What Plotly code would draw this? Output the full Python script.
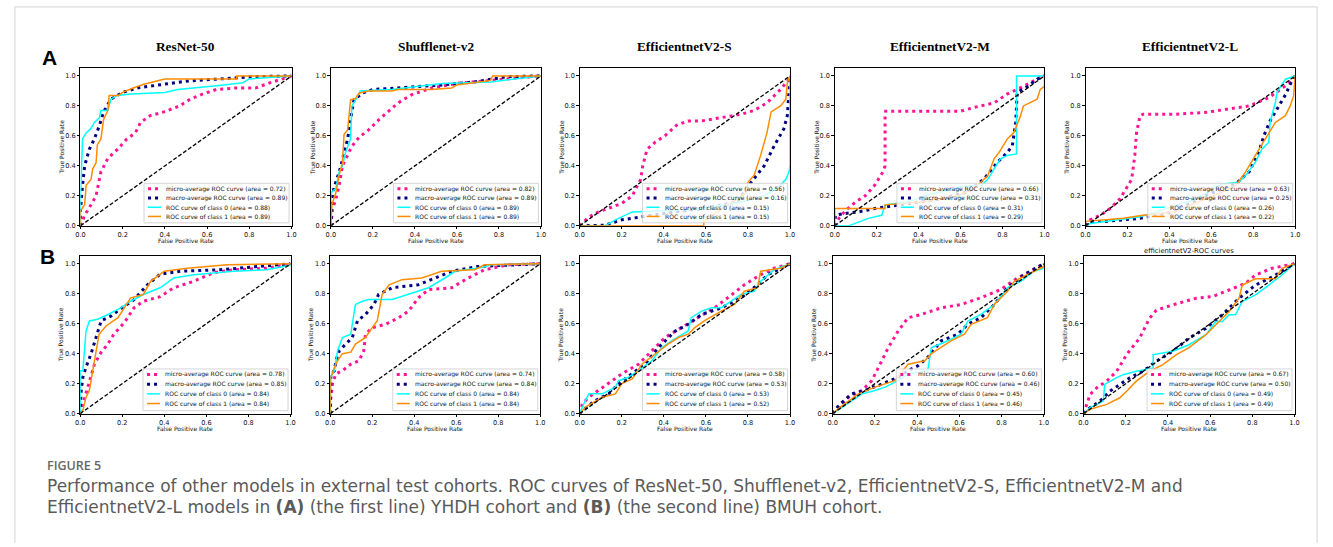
import plotly.graph_objects as go

W, H = 1333, 547

# ---------------- text / labels ----------------
titles_A = ["ResNet-50", "Shufflenet-v2", "EfficientnetV2-S", "EfficientnetV2-M", "EfficientnetV2-L"]
title_B5 = "efficientnetV2-ROC curves"
tick_vals = [0.0, 0.2, 0.4, 0.6, 0.8, 1.0]
tick_text = ["0.0", "0.2", "0.4", "0.6", "0.8", "1.0"]
series_names = ["micro-average ROC curve", "macro-average ROC curve",
                "ROC curve of class 0", "ROC curve of class 1"]
x_title = "False Positive Rate"
y_title = "True Positive Rate"

auc_A = [[0.72, 0.89, 0.88, 0.89], [0.82, 0.89, 0.89, 0.89], [0.56, 0.16, 0.15, 0.15],
         [0.66, 0.31, 0.31, 0.29], [0.63, 0.25, 0.26, 0.22]]
auc_B = [[0.78, 0.85, 0.84, 0.84], [0.74, 0.84, 0.84, 0.84], [0.58, 0.53, 0.53, 0.52],
         [0.60, 0.46, 0.45, 0.46], [0.67, 0.50, 0.49, 0.49]]

caption_head = "FIGURE 5"
caption_1 = ("Performance of other models in external test cohorts. ROC curves of ResNet-50, "
             "Shufflenet-v2, EfficientnetV2-S, EfficientnetV2-M and")
caption_2 = ("EfficientnetV2-L models in <b>(A)</b> (the first line) YHDH cohort and "
             "<b>(B)</b> (the second line) BMUH cohort.")

# ---------------- data: row A (YHDH) ----------------
a1_micro_fpr = [0, 0.02, 0.05, 0.074, 0.097, 0.13, 0.175, 0.22, 0.26, 0.285, 0.33, 0.395, 0.47, 0.52, 0.58, 0.645, 0.74, 0.83, 0.9, 1.0]
a1_micro_tpr = [0, 0.07, 0.14, 0.2, 0.36, 0.45, 0.51, 0.58, 0.62, 0.69, 0.735, 0.76, 0.80, 0.845, 0.88, 0.91, 0.92, 0.92, 0.955, 1.0]
a1_macro_fpr = [0, 0, 0.01, 0.02, 0.042, 0.066, 0.09, 0.11, 0.144, 0.2, 0.27, 0.38, 0.5, 0.66, 0.82, 1.0]
a1_macro_tpr = [0, 0.1, 0.27, 0.4, 0.51, 0.58, 0.67, 0.76, 0.845, 0.89, 0.92, 0.94, 0.965, 0.98, 0.995, 1.0]
a1_c0_fpr = [0, 0, 0.01, 0.027, 0.05, 0.066, 0.09, 0.097, 0.13, 0.136, 0.144, 0.175, 0.24, 0.4, 0.46, 0.645, 0.77, 0.8, 1.0]
a1_c0_tpr = [0, 0.18, 0.58, 0.62, 0.65, 0.69, 0.72, 0.77, 0.77, 0.81, 0.845, 0.87, 0.88, 0.89, 0.91, 0.935, 0.955, 0.98, 1.0]
a1_c1_fpr = [0, 0, 0.02, 0.027, 0.05, 0.058, 0.074, 0.08, 0.097, 0.11, 0.13, 0.136, 0.18, 0.2, 0.25, 0.3, 0.4, 0.74, 0.74, 1.0]
a1_c1_tpr = [0, 0.1, 0.14, 0.27, 0.31, 0.38, 0.42, 0.54, 0.58, 0.71, 0.77, 0.87, 0.87, 0.89, 0.92, 0.945, 0.98, 0.98, 1.0, 1.0]

a2_micro_fpr = [0, 0.008, 0.024, 0.04, 0.055, 0.08, 0.1, 0.134, 0.18, 0.23, 0.275, 0.32, 0.385, 0.48, 0.6, 0.76, 0.92, 1.0]
a2_micro_tpr = [0, 0.11, 0.18, 0.27, 0.40, 0.47, 0.53, 0.59, 0.64, 0.71, 0.765, 0.82, 0.875, 0.92, 0.95, 0.97, 0.995, 1.0]
a2_macro_fpr = [0, 0.005, 0.016, 0.04, 0.055, 0.08, 0.094, 0.11, 0.15, 0.2, 0.32, 0.53, 0.685, 0.84, 1.0]
a2_macro_tpr = [0, 0.18, 0.26, 0.36, 0.44, 0.58, 0.71, 0.84, 0.885, 0.91, 0.92, 0.94, 0.96, 0.995, 1.0]
a2_c0_fpr = [0, 0, 0.024, 0.04, 0.055, 0.07, 0.094, 0.1, 0.118, 0.14, 0.29, 0.42, 0.53, 0.76, 1.0]
a2_c0_tpr = [0, 0.22, 0.25, 0.36, 0.4, 0.49, 0.58, 0.8, 0.84, 0.9, 0.91, 0.93, 0.95, 0.96, 1.0]
a2_c1_fpr = [0, 0.005, 0.024, 0.04, 0.055, 0.063, 0.08, 0.094, 0.118, 0.134, 0.18, 0.29, 0.32, 0.48, 0.575, 0.6, 0.76, 0.77, 1.0]
a2_c1_tpr = [0, 0.14, 0.22, 0.34, 0.42, 0.61, 0.64, 0.84, 0.85, 0.885, 0.9, 0.9, 0.91, 0.91, 0.92, 0.94, 0.97, 1.0, 1.0]

a3_micro_fpr = [0, 0.044, 0.09, 0.154, 0.2, 0.25, 0.29, 0.30, 0.32, 0.36, 0.405, 0.46, 0.515, 0.58, 0.67, 0.77, 0.83, 0.89, 0.955, 0.995, 1.0]
a3_micro_tpr = [0, 0.06, 0.093, 0.126, 0.15, 0.2, 0.31, 0.40, 0.51, 0.56, 0.6, 0.67, 0.7, 0.7, 0.72, 0.745, 0.77, 0.82, 0.91, 0.98, 1.0]
a3_macro_fpr = [0, 0.12, 0.2, 0.33, 0.45, 0.59, 0.75, 0.815, 0.877, 0.925, 0.97, 0.987, 0.995, 1.0]
a3_macro_tpr = [0, 0.004, 0.04, 0.07, 0.093, 0.115, 0.16, 0.29, 0.4, 0.535, 0.646, 0.735, 0.91, 1.0]
a3_c0_fpr = [0, 0.12, 0.17, 0.25, 0.44, 0.59, 0.77, 0.86, 0.94, 0.98, 0.995, 1.0, 1.0]
a3_c0_tpr = [0, 0, 0.04, 0.093, 0.104, 0.115, 0.16, 0.19, 0.25, 0.31, 0.36, 0.4, 1.0]
a3_c1_fpr = [0, 0.59, 0.59, 0.79, 0.8, 0.83, 0.86, 0.89, 0.91, 0.955, 0.98, 0.987, 1.0]
a3_c1_tpr = [0, 0, 0.03, 0.22, 0.29, 0.34, 0.47, 0.62, 0.76, 0.8, 0.845, 0.956, 1.0]

a4_micro_fpr = [0, 0.02, 0.05, 0.1, 0.145, 0.19, 0.23, 0.24, 0.24, 0.243, 0.35, 0.6, 0.665, 0.76, 0.823, 0.9, 0.98, 1.0]
a4_micro_tpr = [0, 0.05, 0.1, 0.16, 0.2, 0.27, 0.36, 0.4, 0.735, 0.765, 0.765, 0.765, 0.79, 0.82, 0.88, 0.93, 0.99, 1.0]
a4_macro_fpr = [0, 0.003, 0.035, 0.113, 0.19, 0.35, 0.51, 0.634, 0.713, 0.776, 0.823, 0.847, 0.863, 0.87, 0.92, 0.965, 1.0]
a4_macro_tpr = [0, 0.07, 0.08, 0.093, 0.115, 0.148, 0.18, 0.226, 0.314, 0.425, 0.49, 0.535, 0.69, 0.89, 0.93, 0.978, 1.0]
a4_c0_fpr = [0, 0.066, 0.16, 0.224, 0.24, 0.35, 0.43, 0.6, 0.7, 0.73, 0.76, 0.79, 0.823, 0.867, 0.867, 1.0]
a4_c0_tpr = [0, 0, 0.05, 0.07, 0.14, 0.16, 0.2, 0.26, 0.27, 0.31, 0.38, 0.447, 0.47, 0.48, 1.0, 1.0]
a4_c1_fpr = [0, 0, 0.24, 0.24, 0.43, 0.587, 0.666, 0.73, 0.76, 0.784, 0.823, 0.855, 0.886, 0.9, 0.965, 0.98, 1.0, 1.0]
a4_c1_tpr = [0, 0.115, 0.115, 0.14, 0.16, 0.2, 0.25, 0.336, 0.447, 0.49, 0.58, 0.624, 0.735, 0.8, 0.845, 0.91, 0.93, 1.0]

a5_micro_fpr = [0, 0.022, 0.07, 0.117, 0.164, 0.196, 0.22, 0.235, 0.243, 0.26, 0.274, 0.43, 0.574, 0.685, 0.78, 0.874, 0.953, 1.0]
a5_micro_tpr = [0, 0.04, 0.07, 0.115, 0.18, 0.25, 0.31, 0.47, 0.62, 0.735, 0.745, 0.745, 0.757, 0.78, 0.8, 0.856, 0.934, 1.0]
a5_macro_fpr = [0, 0.022, 0.1, 0.26, 0.42, 0.574, 0.716, 0.78, 0.826, 0.85, 0.88, 0.913, 0.953, 0.984, 1.0]
a5_macro_tpr = [0, 0.027, 0.03, 0.05, 0.093, 0.204, 0.28, 0.36, 0.49, 0.6, 0.7, 0.78, 0.874, 0.967, 1.0]
a5_c0_fpr = [0, 0.022, 0.26, 0.337, 0.527, 0.653, 0.73, 0.763, 0.81, 0.842, 0.874, 0.88, 0.905, 0.913, 0.953, 0.984, 1.0]
a5_c0_tpr = [0, 0.015, 0.06, 0.093, 0.18, 0.28, 0.29, 0.336, 0.425, 0.513, 0.558, 0.69, 0.823, 0.89, 0.978, 0.99, 1.0]
a5_c1_fpr = [0, 0, 0.18, 0.274, 0.42, 0.5, 0.653, 0.716, 0.763, 0.81, 0.858, 0.905, 0.953, 0.976, 0.992, 1.0, 1.0]
a5_c1_tpr = [0, 0.03, 0.05, 0.07, 0.093, 0.137, 0.226, 0.27, 0.36, 0.47, 0.58, 0.69, 0.735, 0.8, 0.867, 0.98, 1.0]

# ---------------- data: row B (BMUH) ----------------
b1_micro_fpr = [0, 0.013, 0.028, 0.044, 0.068, 0.1, 0.13, 0.16, 0.21, 0.256, 0.3, 0.38, 0.445, 0.54, 0.634, 0.73, 0.885, 1.0]
b1_micro_tpr = [0, 0.066, 0.13, 0.22, 0.33, 0.41, 0.46, 0.53, 0.607, 0.706, 0.75, 0.78, 0.84, 0.883, 0.94, 0.96, 0.97, 1.0]
b1_macro_fpr = [0, 0.005, 0.013, 0.028, 0.052, 0.075, 0.1, 0.146, 0.193, 0.256, 0.32, 0.38, 0.476, 0.665, 0.854, 1.0]
b1_macro_tpr = [0, 0.155, 0.243, 0.31, 0.4, 0.507, 0.62, 0.65, 0.7, 0.76, 0.86, 0.93, 0.95, 0.96, 0.982, 1.0]
b1_c0_fpr = [0, 0, 0.013, 0.02, 0.028, 0.044, 0.083, 0.13, 0.193, 0.24, 0.3, 0.38, 0.445, 0.54, 0.73, 0.885, 1.0, 1.0]
b1_c0_tpr = [0, 0.287, 0.287, 0.44, 0.55, 0.618, 0.63, 0.66, 0.706, 0.75, 0.795, 0.84, 0.905, 0.927, 0.95, 0.96, 0.99, 1.0]
b1_c1_fpr = [0, 0.013, 0.028, 0.044, 0.06, 0.075, 0.09, 0.123, 0.18, 0.21, 0.24, 0.3, 0.335, 0.4, 0.508, 0.7, 1.0]
b1_c1_tpr = [0, 0.022, 0.11, 0.155, 0.287, 0.42, 0.53, 0.585, 0.64, 0.706, 0.773, 0.795, 0.883, 0.95, 0.97, 0.993, 1.0]

b2_micro_fpr = [0, 0.003, 0.011, 0.027, 0.058, 0.098, 0.137, 0.16, 0.168, 0.2, 0.263, 0.326, 0.373, 0.42, 0.468, 0.578, 0.657, 0.735, 0.846, 1.0]
b2_micro_tpr = [0, 0.11, 0.2, 0.265, 0.287, 0.33, 0.353, 0.42, 0.53, 0.574, 0.596, 0.64, 0.684, 0.773, 0.828, 0.84, 0.905, 0.96, 0.993, 1.0]
b2_macro_fpr = [0, 0.003, 0.02, 0.027, 0.043, 0.074, 0.105, 0.13, 0.168, 0.208, 0.23, 0.295, 0.42, 0.5, 0.578, 0.704, 1.0]
b2_macro_tpr = [0, 0.265, 0.287, 0.353, 0.42, 0.464, 0.508, 0.62, 0.662, 0.728, 0.795, 0.84, 0.86, 0.905, 0.95, 0.982, 1.0]
b2_c0_fpr = [0, 0, 0.02, 0.035, 0.058, 0.098, 0.105, 0.12, 0.153, 0.184, 0.295, 0.42, 0.468, 0.546, 0.594, 0.72, 0.767, 1.0]
b2_c0_tpr = [0, 0.243, 0.287, 0.42, 0.508, 0.53, 0.596, 0.728, 0.75, 0.762, 0.762, 0.817, 0.84, 0.905, 0.95, 0.975, 0.993, 1.0]
b2_c1_fpr = [0, 0.003, 0.02, 0.035, 0.058, 0.098, 0.12, 0.168, 0.2, 0.224, 0.247, 0.28, 0.342, 0.436, 0.53, 0.687, 0.735, 1.0]
b2_c1_tpr = [0, 0.243, 0.31, 0.353, 0.4, 0.41, 0.464, 0.508, 0.574, 0.62, 0.795, 0.86, 0.894, 0.905, 0.95, 0.96, 0.993, 1.0]

b3_micro_fpr = [0, 0.013, 0.044, 0.09, 0.138, 0.2, 0.28, 0.343, 0.406, 0.484, 0.563, 0.64, 0.704, 0.783, 0.86, 0.925, 1.0]
b3_micro_tpr = [0, 0.066, 0.11, 0.155, 0.2, 0.265, 0.33, 0.42, 0.508, 0.574, 0.64, 0.706, 0.773, 0.86, 0.927, 0.97, 1.0]
b3_macro_fpr = [0, 0.013, 0.075, 0.138, 0.185, 0.25, 0.31, 0.374, 0.453, 0.516, 0.58, 0.673, 0.767, 0.846, 0.893, 0.956, 1.0]
b3_macro_tpr = [0, 0.022, 0.088, 0.132, 0.2, 0.265, 0.33, 0.44, 0.55, 0.596, 0.662, 0.706, 0.773, 0.86, 0.927, 0.97, 1.0]
b3_c0_fpr = [0, 0.02, 0.044, 0.107, 0.17, 0.185, 0.233, 0.28, 0.343, 0.39, 0.437, 0.516, 0.53, 0.58, 0.626, 0.673, 0.767, 0.83, 0.86, 0.925, 1.0]
b3_c0_tpr = [0, 0.066, 0.132, 0.132, 0.177, 0.22, 0.243, 0.287, 0.353, 0.44, 0.486, 0.552, 0.64, 0.684, 0.706, 0.706, 0.795, 0.817, 0.883, 0.96, 1.0]
b3_c1_fpr = [0, 0.028, 0.107, 0.17, 0.2, 0.25, 0.296, 0.36, 0.42, 0.47, 0.516, 0.547, 0.594, 0.673, 0.736, 0.783, 0.846, 0.86, 0.956, 1.0]
b3_c1_tpr = [0, 0.044, 0.11, 0.132, 0.2, 0.232, 0.33, 0.4, 0.464, 0.508, 0.53, 0.574, 0.62, 0.684, 0.728, 0.817, 0.84, 0.95, 0.97, 1.0]

b4_micro_fpr = [0, 0.028, 0.075, 0.138, 0.185, 0.216, 0.263, 0.31, 0.357, 0.42, 0.514, 0.608, 0.702, 0.796, 0.875, 0.937, 1.0]
b4_micro_tpr = [0, 0.044, 0.11, 0.155, 0.22, 0.31, 0.44, 0.552, 0.64, 0.662, 0.706, 0.728, 0.773, 0.828, 0.905, 0.95, 1.0]
b4_macro_fpr = [0, 0.028, 0.09, 0.153, 0.216, 0.31, 0.357, 0.404, 0.45, 0.514, 0.592, 0.64, 0.702, 0.765, 0.828, 0.906, 1.0]
b4_macro_tpr = [0, 0.055, 0.132, 0.155, 0.188, 0.243, 0.287, 0.32, 0.375, 0.486, 0.53, 0.596, 0.64, 0.728, 0.84, 0.927, 1.0]
b4_c0_fpr = [0, 0.044, 0.09, 0.138, 0.2, 0.248, 0.31, 0.357, 0.45, 0.467, 0.545, 0.608, 0.64, 0.702, 0.765, 0.828, 0.89, 0.953, 1.0, 1.0]
b4_c0_tpr = [0, 0.044, 0.088, 0.132, 0.155, 0.177, 0.22, 0.265, 0.287, 0.44, 0.486, 0.53, 0.618, 0.662, 0.728, 0.84, 0.883, 0.95, 0.97, 1.0]
b4_c1_fpr = [0, 0.036, 0.122, 0.2, 0.294, 0.357, 0.436, 0.467, 0.56, 0.624, 0.655, 0.733, 0.765, 0.828, 0.86, 0.953, 1.0, 1.0]
b4_c1_tpr = [0, 0.044, 0.132, 0.177, 0.22, 0.33, 0.353, 0.4, 0.486, 0.53, 0.596, 0.64, 0.728, 0.817, 0.883, 0.95, 0.982, 1.0]

b5_micro_fpr = [0, 0.016, 0.031, 0.063, 0.11, 0.157, 0.204, 0.266, 0.313, 0.345, 0.423, 0.533, 0.611, 0.69, 0.768, 0.815, 0.893, 1.0]
b5_micro_tpr = [0, 0.062, 0.128, 0.173, 0.217, 0.283, 0.394, 0.504, 0.637, 0.69, 0.726, 0.77, 0.781, 0.825, 0.87, 0.925, 0.97, 1.0]
b5_macro_fpr = [0, 0.031, 0.078, 0.125, 0.172, 0.22, 0.282, 0.345, 0.423, 0.5, 0.58, 0.658, 0.737, 0.815, 0.893, 1.0]
b5_macro_tpr = [0, 0.04, 0.084, 0.15, 0.195, 0.24, 0.283, 0.35, 0.416, 0.504, 0.57, 0.66, 0.77, 0.858, 0.912, 1.0]
b5_c0_fpr = [0, 0.031, 0.094, 0.1, 0.157, 0.188, 0.25, 0.33, 0.33, 0.423, 0.5, 0.58, 0.627, 0.658, 0.69, 0.72, 0.752, 0.815, 0.878, 0.94, 1.0]
b5_c0_tpr = [0, 0.04, 0.084, 0.195, 0.24, 0.26, 0.283, 0.305, 0.394, 0.416, 0.46, 0.527, 0.615, 0.615, 0.66, 0.66, 0.748, 0.792, 0.858, 0.925, 1.0]
b5_c1_fpr = [0, 0.031, 0.11, 0.172, 0.204, 0.25, 0.313, 0.376, 0.44, 0.5, 0.58, 0.627, 0.69, 0.737, 0.752, 0.815, 0.909, 0.94, 1.0]
b5_c1_tpr = [0, 0.029, 0.062, 0.106, 0.15, 0.217, 0.283, 0.327, 0.394, 0.44, 0.527, 0.593, 0.681, 0.77, 0.858, 0.9, 0.9, 0.97, 1.0]

chance_fpr = [0, 1]
chance_tpr = [0, 1]

# ---------------- assemble ----------------
panels = [
    [(a1_micro_fpr, a1_micro_tpr), (a1_macro_fpr, a1_macro_tpr), (a1_c0_fpr, a1_c0_tpr), (a1_c1_fpr, a1_c1_tpr)],
    [(a2_micro_fpr, a2_micro_tpr), (a2_macro_fpr, a2_macro_tpr), (a2_c0_fpr, a2_c0_tpr), (a2_c1_fpr, a2_c1_tpr)],
    [(a3_micro_fpr, a3_micro_tpr), (a3_macro_fpr, a3_macro_tpr), (a3_c0_fpr, a3_c0_tpr), (a3_c1_fpr, a3_c1_tpr)],
    [(a4_micro_fpr, a4_micro_tpr), (a4_macro_fpr, a4_macro_tpr), (a4_c0_fpr, a4_c0_tpr), (a4_c1_fpr, a4_c1_tpr)],
    [(a5_micro_fpr, a5_micro_tpr), (a5_macro_fpr, a5_macro_tpr), (a5_c0_fpr, a5_c0_tpr), (a5_c1_fpr, a5_c1_tpr)],
    [(b1_micro_fpr, b1_micro_tpr), (b1_macro_fpr, b1_macro_tpr), (b1_c0_fpr, b1_c0_tpr), (b1_c1_fpr, b1_c1_tpr)],
    [(b2_micro_fpr, b2_micro_tpr), (b2_macro_fpr, b2_macro_tpr), (b2_c0_fpr, b2_c0_tpr), (b2_c1_fpr, b2_c1_tpr)],
    [(b3_micro_fpr, b3_micro_tpr), (b3_macro_fpr, b3_macro_tpr), (b3_c0_fpr, b3_c0_tpr), (b3_c1_fpr, b3_c1_tpr)],
    [(b4_micro_fpr, b4_micro_tpr), (b4_macro_fpr, b4_macro_tpr), (b4_c0_fpr, b4_c0_tpr), (b4_c1_fpr, b4_c1_tpr)],
    [(b5_micro_fpr, b5_micro_tpr), (b5_macro_fpr, b5_macro_tpr), (b5_c0_fpr, b5_c0_tpr), (b5_c1_fpr, b5_c1_tpr)],
]
aucs = auc_A + auc_B

# styles
COLORS = ["#FF1493", "#000080", "#00FFFF", "#FF8C00"]
WIDTHS = [3, 3, 1.5, 1.5]
DASHES = ["3px,4px", "3px,4px", "solid", "solid"]
SMALL = dict(family="DejaVu Sans", size=6.0, color="#111111")
TICKF = dict(family="DejaVu Sans", size=6.6, color="#111111")

# pixel geometry: (x at fpr=0, x at fpr=1, y at tpr=0, y at tpr=1)
GEO = [
    (76.0, 288.7, 227.5, 76.5), (328.3, 540.0, 227.5, 76.5), (579.0, 791.0, 227.5, 76.5),
    (836.0, 1047.3, 227.5, 76.5), (1088.7, 1300.0, 227.5, 76.5),
    (75.7, 287.7, 416.7, 265.7), (327.7, 539.3, 416.7, 265.7), (579.0, 791.0, 416.7, 265.7),
    (834.0, 1046.7, 416.7, 265.7), (1086.7, 1299.3, 416.7, 265.7),
]
YMAX = 1.05

fig = go.Figure()
layout = dict(width=W, height=H, margin=dict(l=0, r=0, t=0, b=0),
              paper_bgcolor="white", plot_bgcolor="white", showlegend=False,
              font=dict(family="DejaVu Sans"))
annotations = []
shapes = []

for k in range(10):
    n = k + 1
    xa = "x" if n == 1 else f"x{n}"
    ya = "y" if n == 1 else f"y{n}"
    xk = "xaxis" if n == 1 else f"xaxis{n}"
    yk = "yaxis" if n == 1 else f"yaxis{n}"
    x0, x1, yz, yo = GEO[k]
    ytop = yz - YMAX * (yz - yo)
    axis_common = dict(showline=True, mirror=True, linecolor="#000000", linewidth=0.8,
                       ticks="outside", ticklen=2.5, tickwidth=0.8, tickcolor="#000000",
                       showgrid=False, zeroline=False, tickvals=tick_vals, ticktext=tick_text,
                       tickfont=TICKF, fixedrange=True)
    layout[xk] = dict(domain=[x0 / W, x1 / W], range=[0, 1], anchor=ya, **axis_common)
    layout[yk] = dict(domain=[1 - yz / H, 1 - ytop / H], range=[0, YMAX], anchor=xa, **axis_common)

    for i, (fx, ty) in enumerate(panels[k]):
        fig.add_trace(go.Scatter(x=fx, y=ty, mode="lines", xaxis=xa, yaxis=ya,
                                 line=dict(color=COLORS[i], width=WIDTHS[i], dash=DASHES[i]),
                                 hoverinfo="skip"))
    fig.add_trace(go.Scatter(x=chance_fpr, y=chance_tpr, mode="lines", xaxis=xa, yaxis=ya,
                             line=dict(color="#000000", width=1.3, dash="4px,2px"), hoverinfo="skip"))

    xd, yd = f"{xa} domain", f"{ya} domain"
    # axis titles
    annotations.append(dict(xref=xd, yref=yd, x=0.5, y=0, yshift=-15, xanchor="center", yanchor="middle",
                            text=x_title, showarrow=False, font=SMALL))
    annotations.append(dict(xref=xd, yref=yd, x=0, y=0.5, xshift=-19, xanchor="center", yanchor="middle",
                            textangle=-90, text=y_title, showarrow=False, font=SMALL))
    # panel titles
    if k < 5:
        annotations.append(dict(xref=xd, yref=yd, x=0.5, y=1, yshift=(ytop - 47), xanchor="center",
                                yanchor="middle", text=f"<b>{titles_A[k]}</b>", showarrow=False,
                                font=dict(family="Liberation Serif", size=13.3, color="#000000")))
    elif k == 9:
        annotations.append(dict(xref=xd, yref=yd, x=0.5, y=1, yshift=(ytop - 253), xanchor="center",
                                yanchor="middle", text=title_B5, showarrow=False,
                                font=dict(family="DejaVu Sans", size=6.8, color="#111111")))

    # legend (box + samples + text, anchored to the axes' lower-right corner)
    offs = [37, 27.8, 18.6, 9.4] if k < 5 else [39.2, 29.5, 19.8, 10.1]
    right = -2.5
    left = right - 145
    shapes.append(dict(type="rect", xref=xd, yref=yd, xsizemode="pixel", ysizemode="pixel",
                       xanchor=1, yanchor=0, x0=left, x1=right, y0=3, y1=offs[0] + 5.5,
                       line=dict(color="#cccccc", width=0.8), fillcolor="rgba(255,255,255,0.8)",
                       layer="above"))
    for i in range(4):
        shapes.append(dict(type="line", xref=xd, yref=yd, xsizemode="pixel", ysizemode="pixel",
                           xanchor=1, yanchor=0, x0=left + 4, x1=left + 17, y0=offs[i], y1=offs[i],
                           line=dict(color=COLORS[i], width=WIDTHS[i], dash=DASHES[i]), layer="above"))
        annotations.append(dict(xref=xd, yref=yd, x=1, y=0, xshift=left + 21, yshift=offs[i],
                                xanchor="left", yanchor="middle", borderpad=0,
                                text=f"{series_names[i]} (area = {aucs[k][i]:.2f})",
                                showarrow=False, font=SMALL))

# panel letters
annotations.append(dict(xref="paper", yref="paper", x=45 / W, y=1 - 57.5 / H, xanchor="center",
                        yanchor="middle", text="<b>A</b>", showarrow=False,
                        font=dict(family="Liberation Sans", size=21, color="#000000")))
annotations.append(dict(xref="paper", yref="paper", x=42.5 / W, y=1 - 258.5 / H, xanchor="center",
                        yanchor="middle", text="<b>B</b>", showarrow=False,
                        font=dict(family="Liberation Sans", size=21, color="#000000")))

# caption
annotations.append(dict(xref="paper", yref="paper", x=41 / W, y=1 - 469 / H, xanchor="left",
                        yanchor="middle", text=caption_head, showarrow=False, borderpad=0,
                        font=dict(family="Open Sans", size=12.5, color="#666666", weight=600)))
annotations.append(dict(xref="paper", yref="paper", x=41 / W, y=1 - 489.5 / H, xanchor="left",
                        yanchor="middle", text=caption_1, showarrow=False, borderpad=0,
                        font=dict(family="DejaVu Sans", size=17, color="#5a5a5a")))
annotations.append(dict(xref="paper", yref="paper", x=41 / W, y=1 - 511 / H, xanchor="left",
                        yanchor="middle", text=caption_2, showarrow=False, borderpad=0,
                        font=dict(family="DejaVu Sans", size=17, color="#5a5a5a")))

# figure frame
for (ax0, ay0, ax1, ay1) in [(10, 7, 1322, 7), (10, 7, 10, 547), (1322, 7, 1322, 547)]:
    shapes.append(dict(type="line", xref="paper", yref="paper", x0=ax0 / W, x1=ax1 / W,
                       y0=1 - ay0 / H, y1=1 - ay1 / H, line=dict(color="#d4d4d4", width=1)))

layout["annotations"] = annotations
layout["shapes"] = shapes
fig.update_layout(**layout)
fig.write_html("out.html")
